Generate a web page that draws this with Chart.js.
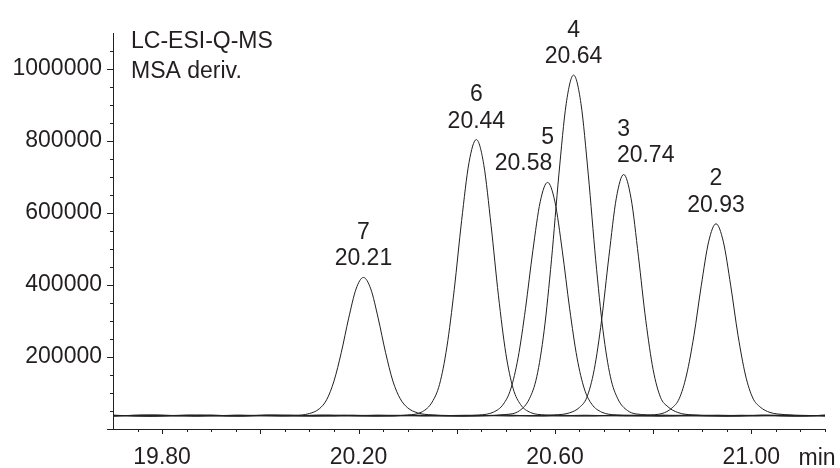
<!DOCTYPE html>
<html>
<head>
<meta charset="utf-8">
<title>LC-ESI-Q-MS chromatogram</title>
<script src="https://cdn.jsdelivr.net/npm/chart.js@4/dist/chart.umd.min.js"></script>
<style>
    html, body { margin: 0; padding: 0; background: #fff; }
    #chrom { display: block; }
</style>
</head>
<body>
<canvas id="chrom" width="840" height="468"></canvas>
<script>
// Traces: [retention time (min), signal (counts)]
const trace7 = [
    [19.70, 35800], [19.76, 38400], [19.83, 36200], [19.90, 38600], [19.96, 35900], [20.02, 38200],
    [20.07, 38000], [20.10, 43000], [20.12, 56000], [20.135, 81000], [20.15, 133000],
    [20.165, 213000], [20.18, 308000], [20.195, 389000], [20.21, 421000], [20.225, 389000],
    [20.24, 308000], [20.255, 213000], [20.27, 133000], [20.285, 84000], [20.30, 59000],
    [20.32, 45000], [20.35, 39000],
    [20.42, 36200], [20.50, 38500], [20.58, 35800], [20.66, 38300], [20.74, 36000],
    [20.82, 38600], [20.90, 35900], [20.98, 38200], [21.06, 36100], [21.15, 37800]
];
const trace6 = [
    [19.70, 38300], [19.77, 35900], [19.85, 38500], [19.93, 36100], [20.01, 38700],
    [20.09, 35800], [20.17, 38200], [20.24, 36300],
    [20.30, 39000], [20.33, 48000], [20.35, 75000], [20.365, 124000], [20.38, 228000],
    [20.395, 388000], [20.41, 579000], [20.425, 740000], [20.44, 804000], [20.455, 735000],
    [20.47, 565000], [20.485, 370000], [20.50, 210000], [20.515, 112000], [20.53, 68000],
    [20.55, 46000], [20.58, 39000],
    [20.65, 35900], [20.73, 38400], [20.81, 36000], [20.89, 38600], [20.97, 35800],
    [21.05, 38300], [21.15, 36200]
];
const trace5 = [
    [19.70, 36600], [19.79, 38800], [19.87, 35700], [19.95, 38300], [20.04, 36000],
    [20.12, 38500], [20.20, 35900], [20.28, 38100], [20.37, 36200],
    [20.445, 39000], [20.475, 47000], [20.495, 69000], [20.51, 111000], [20.525, 198000],
    [20.54, 334000], [20.555, 495000], [20.57, 631000], [20.585, 685000], [20.60, 631000],
    [20.615, 495000], [20.63, 334000], [20.645, 198000], [20.66, 111000], [20.675, 69000],
    [20.695, 47000], [20.725, 39000],
    [20.79, 36100], [20.87, 38500], [20.95, 35800], [21.03, 38300], [21.09, 36000], [21.15, 38200]
];
const trace4 = [
    [19.70, 37900], [19.78, 35700], [19.86, 38400], [19.94, 36100], [20.03, 38600],
    [20.11, 35900], [20.19, 38300], [20.27, 36000], [20.35, 38500], [20.43, 36200],
    [20.498, 40000], [20.528, 51000], [20.548, 84000], [20.563, 145000], [20.578, 273000],
    [20.593, 470000], [20.608, 706000], [20.623, 904000], [20.638, 983000], [20.653, 904000],
    [20.668, 706000], [20.683, 470000], [20.698, 273000], [20.713, 145000], [20.728, 84000],
    [20.748, 51000], [20.778, 40000],
    [20.85, 35900], [20.93, 38400], [21.01, 36200], [21.08, 38600], [21.15, 36000]
];
const trace3 = [
    [19.70, 36300], [19.78, 38600], [19.87, 35800], [19.96, 38200], [20.05, 36100],
    [20.14, 38700], [20.23, 35900], [20.32, 38300], [20.41, 36000], [20.50, 38400], [20.55, 36400],
    [20.60, 39000], [20.63, 45000], [20.65, 60000], [20.665, 88000], [20.68, 165000],
    [20.695, 302000], [20.71, 480000], [20.725, 641000], [20.74, 707000], [20.755, 641000],
    [20.77, 480000], [20.785, 302000], [20.80, 165000], [20.815, 88000], [20.83, 62000],
    [20.85, 46000], [20.88, 39000],
    [20.95, 36000], [21.02, 38500], [21.09, 35900], [21.15, 38100]
];
const trace2 = [
    [19.70, 37400], [19.79, 35800], [19.88, 38500], [19.97, 36000], [20.06, 38300],
    [20.15, 35700], [20.24, 38600], [20.33, 36100], [20.42, 38200], [20.51, 35900],
    [20.60, 38500], [20.68, 36100], [20.74, 38000],
    [20.788, 39000], [20.818, 43000], [20.838, 58000], [20.853, 84000], [20.868, 150000],
    [20.883, 259000], [20.898, 398000], [20.913, 520000], [20.928, 570000], [20.943, 520000],
    [20.958, 398000], [20.973, 259000], [20.988, 150000], [21.003, 86000], [21.018, 61000],
    [21.038, 46000], [21.068, 40000],
    [21.11, 36300], [21.15, 37900]
];

const traces = [trace7, trace6, trace5, trace4, trace3, trace2];
const peakIds = ['7', '6', '5', '4', '3', '2'];
const peakTimes = ['20.21', '20.44', '20.58', '20.64', '20.74', '20.93'];
const infoLines = ['LC-ESI-Q-MS', 'MSA deriv.'];
const timeLabels = [19.80, 20.20, 20.60, 21.00];
const timeUnit = 'min';

const X_MIN = 19.70, X_MAX = 21.15;
const Y_MIN = 0, Y_MAX = 1100000;

const INK = '#231f20';
const FONT = '"Liberation Sans", Arial, Helvetica, sans-serif';
const FONT_PX = 23;
// nudges so the retention-time text clears neighbouring peaks
const rtShift = [0, 0, -24, 0, 22, 0];

// tick marks drawn by hand so major and minor get different lengths
const tickMarks = {
    id: 'tickMarks',
    afterDraw(chart) {
        const { ctx, chartArea } = chart;
        const xs = chart.scales.x, ys = chart.scales.y;
        ctx.save();
        ctx.strokeStyle = INK;
        ctx.lineWidth = 1;
        ctx.beginPath();
        xs.ticks.forEach((t, i) => {
            if (i === 0) return;
            const px = Math.round(xs.getPixelForValue(t.value)) + 0.5;
            const len = Math.round(t.value * 100) % 20 === 0 ? 5 : 3;
            ctx.moveTo(px, chartArea.bottom);
            ctx.lineTo(px, chartArea.bottom + len);
        });
        ys.ticks.forEach(t => {
            if (t.value >= Y_MAX) return;
            const py = Math.round(ys.getPixelForValue(t.value)) + 0.5;
            const len = t.value % 200000 === 0 ? 6 : 3;
            ctx.moveTo(chartArea.left, py);
            ctx.lineTo(chartArea.left - len, py);
        });
        ctx.stroke();
        ctx.restore();
    }
};

// peak numbers, retention times, header text and axis unit
const annotations = {
    id: 'annotations',
    afterDraw(chart) {
        const { ctx } = chart;
        const xs = chart.scales.x, ys = chart.scales.y;
        ctx.save();
        ctx.fillStyle = INK;
        ctx.font = FONT_PX + 'px ' + FONT;
        ctx.textBaseline = 'alphabetic';

        traces.forEach((tr, i) => {
            const apex = tr.reduce((a, b) => (b[1] > a[1] ? b : a));
            const px = xs.getPixelForValue(apex[0]);
            const py = ys.getPixelForValue(apex[1]);
            ctx.textAlign = 'center';
            ctx.fillText(peakTimes[i], px + rtShift[i], py - 12);
            ctx.fillText(peakIds[i], px, py - 38.5);
        });

        ctx.textAlign = 'left';
        ctx.fillText(infoLines[0], 131, 48);
        ctx.fillText(infoLines[1], 131, 78);

        ctx.textAlign = 'center';
        ctx.fillText(timeUnit, 817, 465);
        ctx.restore();
    }
};

const ctx = document.getElementById('chrom').getContext('2d');
new Chart(ctx, {
    type: 'scatter',
    data: {
        datasets: traces.map((tr, i) => ({
            label: 'peak ' + peakIds[i],
            data: tr.map(p => ({ x: p[0], y: p[1] })),
            showLine: true,
            borderColor: INK,
            borderWidth: 1,
            pointRadius: 0,
            cubicInterpolationMode: 'monotone',
            fill: false
        }))
    },
    options: {
        responsive: false,
        animation: false,
        layout: { padding: { top: 33, right: 15, bottom: 0, left: 0 } },
        plugins: {
            legend: { display: false },
            tooltip: { enabled: false }
        },
        scales: {
            x: {
                type: 'linear',
                min: X_MIN,
                max: X_MAX,
                grid: { display: false, drawTicks: false },
                border: { display: true, color: INK, width: 1 },
                ticks: {
                    stepSize: 0.05,
                    autoSkip: false,
                    maxRotation: 0,
                    padding: 15,
                    color: INK,
                    font: { family: FONT, size: FONT_PX },
                    callback: v => timeLabels.some(l => Math.abs(l - v) < 1e-6) ? v.toFixed(2) : ''
                },
                afterFit: s => { s.height = 39; }
            },
            y: {
                min: Y_MIN,
                max: Y_MAX,
                grid: { display: false, drawTicks: false },
                border: { display: true, color: INK, width: 1 },
                ticks: {
                    stepSize: 50000,
                    autoSkip: false,
                    padding: 11,
                    color: INK,
                    font: { family: FONT, size: FONT_PX },
                    callback: v => (v > 0 && v % 200000 === 0) ? String(v) : ''
                },
                afterFit: s => { s.width = 113; }
            }
        }
    },
    plugins: [tickMarks, annotations]
});
</script>
</body>
</html>
